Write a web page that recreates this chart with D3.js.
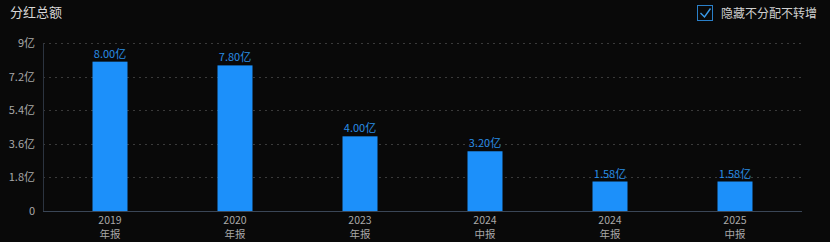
<!DOCTYPE html>
<html>
<head>
<meta charset="utf-8">
<script src="https://cdn.jsdelivr.net/npm/d3@7"></script>
<style>
  html, body { margin: 0; padding: 0; background: #090909; }
  svg { display: block; font-family: "Noto Sans CJK SC", "Noto Sans", sans-serif; }
</style>
</head>
<body>
<script>
var years = ["2019", "2020", "2023", "2024", "2024", "2025"];
var periods = ["年报", "年报", "年报", "中报", "年报", "中报"];
var values = [8.00, 7.80, 4.00, 3.20, 1.58, 1.58];
var yTicks = [0, 1.8, 3.6, 5.4, 7.2, 9];

function init() {
  var w = 830, h = 242;
  var left = 43, right = 802, top = 43, bottom = 211;
  var barW = 35;

  var svg = d3.select("body").append("svg")
    .attr("width", w).attr("height", h);

  svg.append("rect").attr("width", w).attr("height", h).attr("fill", "#090909");

  var idx = d3.range(values.length);
  var xScale = d3.scaleBand().domain(idx).range([47.5, 797.5]);
  var yScale = d3.scaleLinear().domain([0, 9]).range([bottom, top]);

  // title
  svg.append("text").attr("x", 10).attr("y", 17)
    .attr("font-size", 13).attr("fill", "#d8d8d8").text("分红总额");

  // checkbox
  svg.append("rect").attr("x", 697.5).attr("y", 5.5).attr("width", 15).attr("height", 15)
    .attr("fill", "none").attr("stroke", "#2a7fc8").attr("stroke-width", 1);
  svg.append("path").attr("d", "M700.5,13 L704.5,17 L710.5,8.5")
    .attr("fill", "none").attr("stroke", "#3a9ae8").attr("stroke-width", 1.4);
  svg.append("text").attr("x", 721).attr("y", 18)
    .attr("font-size", 12).attr("fill", "#cfcfcf").text("隐藏不分配不转增");

  // grid lines
  svg.selectAll("line.grid")
    .data(yTicks.filter(function(d){ return d > 0; }))
    .enter().append("line")
    .attr("class", "grid")
    .attr("x1", left).attr("x2", right)
    .attr("y1", function(d){ return Math.round(yScale(d)) + 0.5; })
    .attr("y2", function(d){ return Math.round(yScale(d)) + 0.5; })
    .attr("stroke", "#3a3a3a").attr("stroke-dasharray", "2,4");

  // y axis
  var yAxis = d3.axisLeft(yScale).tickValues(yTicks)
    .tickFormat(function(d){ return d === 0 ? "0" : d + "亿"; })
    .tickSize(0).tickPadding(8);
  var gy = svg.append("g").attr("transform", "translate(" + left + ",0)").call(yAxis);
  gy.select(".domain").attr("stroke", "#2c3440");
  gy.selectAll("text").attr("fill", "#a8a8a8").attr("font-size", 11)
    .attr("font-family", "\"Noto Sans CJK SC\", sans-serif");

  // bars
  svg.selectAll("rect.bar")
    .data(values).enter().append("rect")
    .attr("class", "bar")
    .attr("x", function(d, i){ return xScale(i) + xScale.bandwidth() / 2 - barW / 2; })
    .attr("y", function(d){ return yScale(d); })
    .attr("width", barW)
    .attr("height", function(d){ return bottom - yScale(d); })
    .attr("fill", "#1c90fa");

  // value labels
  svg.selectAll("text.val")
    .data(values).enter().append("text")
    .attr("class", "val")
    .attr("x", function(d, i){ return xScale(i) + xScale.bandwidth() / 2; })
    .attr("y", function(d){ return yScale(d) - 4; })
    .attr("text-anchor", "middle")
    .attr("font-size", 11).attr("fill", "#2a8ee6")
    .text(function(d){ return d.toFixed(2) + "亿"; });

  // x axis
  svg.append("line").attr("x1", left).attr("x2", right)
    .attr("y1", bottom + 0.5).attr("y2", bottom + 0.5)
    .attr("stroke", "#3a4656");

  var labels = svg.selectAll("g.xl").data(idx).enter().append("g")
    .attr("class", "xl")
    .attr("transform", function(i){ return "translate(" + (xScale(i) + xScale.bandwidth() / 2) + ",0)"; });
  labels.append("text").attr("y", 224).attr("text-anchor", "middle")
    .attr("font-size", 10.5).attr("fill", "#a8a8a8")
    .text(function(i){ return years[i]; });
  labels.append("text").attr("y", 238).attr("text-anchor", "middle")
    .attr("font-size", 10.5).attr("fill", "#a8a8a8")
    .text(function(i){ return periods[i]; });
}
window.onload = init;
</script>
</body>
</html>
